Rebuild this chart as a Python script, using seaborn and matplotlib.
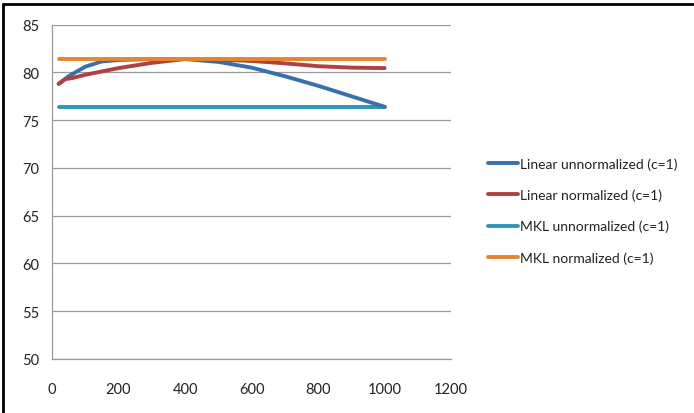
import matplotlib
matplotlib.use("Agg")
import matplotlib.pyplot as plt
import seaborn as sns
import pandas as pd
from matplotlib.lines import Line2D

sns.set_theme(style="white")
plt.rcParams['font.family'] = ['Lato', 'DejaVu Sans']

x_lin_un = [20, 50, 100, 150, 200, 300, 400, 500, 600, 700, 800, 900, 1000]
y_lin_un = [78.8, 79.6, 80.6, 81.15, 81.3, 81.4, 81.4, 81.1, 80.5, 79.6, 78.6, 77.5, 76.4]

x_lin_n = [20, 40, 60, 100, 200, 300, 400, 500, 600, 700, 800, 900, 1000]
y_lin_n = [78.8, 79.3, 79.4, 79.75, 80.45, 81.0, 81.4, 81.35, 81.2, 80.95, 80.65, 80.5, 80.45]

x_mkl_un = [20, 1000]
y_mkl_un = [76.35, 76.35]

x_mkl_n = [20, 1000]
y_mkl_n = [81.4, 81.4]

labels = ["Linear unnormalized (c=1)", "Linear normalized (c=1)",
          "MKL unnormalized (c=1)", "MKL normalized (c=1)"]
colors = ["#3a6fad", "#b0413e", "#2e96b3", "#e3862e"]

xticks = [0, 200, 400, 600, 800, 1000, 1200]
yticks = [50, 55, 60, 65, 70, 75, 80, 85]

frames = []
for xs, ys, lab in [(x_lin_un, y_lin_un, labels[0]), (x_lin_n, y_lin_n, labels[1]),
                    (x_mkl_un, y_mkl_un, labels[2]), (x_mkl_n, y_mkl_n, labels[3])]:
    frames.append(pd.DataFrame({"x": xs, "y": ys, "series": lab}))
df = pd.concat(frames, ignore_index=True)

fig = plt.figure(figsize=(6.94, 4.14), dpi=100)
ax = fig.add_axes([0.075, 0.131, 0.575, 0.807])

for lab, c in zip([labels[2], labels[0], labels[1], labels[3]], [colors[2], colors[0], colors[1], colors[3]]):
    sub = df[df["series"] == lab]
    sns.lineplot(data=sub, x="x", y="y", ax=ax, color=c, linewidth=2.8,
                 legend=False, sort=False, solid_capstyle="round")

ax.set_xlim(0, 1200)
ax.set_ylim(50, 85)
ax.set_xticks(xticks)
ax.set_yticks(yticks)
ax.set_xlabel("")
ax.set_ylabel("")
ax.yaxis.grid(True, color="#9a9a9a", linewidth=0.9)
ax.set_axisbelow(True)
for s in ["top", "right"]:
    ax.spines[s].set_visible(False)
for s in ["left", "bottom"]:
    ax.spines[s].set_color("#9a9a9a")
    ax.spines[s].set_linewidth(0.9)
ax.tick_params(axis="both", which="both", length=5, width=0.9, color="#9a9a9a",
               direction="out", labelsize=10.5, labelcolor="#222222")
ax.tick_params(axis="x", pad=12)
ax.tick_params(axis="y", pad=4)

handles = [Line2D([0], [0], color=c, linewidth=2.8) for c in colors]
leg = fig.legend(handles, labels, loc="upper left", bbox_to_anchor=(0.695, 0.631),
                 frameon=False, fontsize=10, handlelength=2.2, handletextpad=0.1,
                 labelspacing=1.35, borderaxespad=0)
for t in leg.get_texts():
    t.set_color("#222222")

# outer border (top and left)
fig.add_artist(Line2D([0.004, 0.999], [0.988, 0.988], transform=fig.transFigure, color="black", linewidth=2))
fig.add_artist(Line2D([0.004, 0.004], [0.0, 0.988], transform=fig.transFigure, color="black", linewidth=2))

fig.savefig("out.png", dpi=100)
